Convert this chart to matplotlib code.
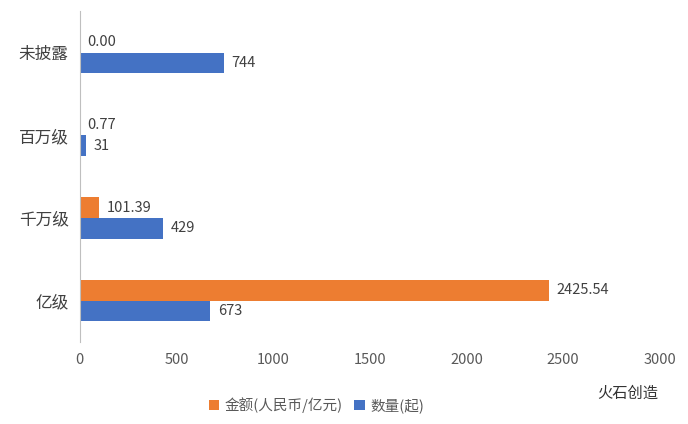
import matplotlib.pyplot as plt
import numpy as np

plt.rcParams['font.family'] = ['Noto Sans CJK SC', 'DejaVu Sans']

categories = ["亿级", "千万级", "百万级", "未披露"]
amount = [2425.54, 101.39, 0.77, 0.00]
amount_labels = ["2425.54", "101.39", "0.77", "0.00"]
count = [673, 429, 31, 744]

orange = "#ED7D31"
blue = "#4472C4"

fig = plt.figure(figsize=(6.88, 4.24), dpi=100)
ax = fig.add_axes([0.116, 0.193, 0.843, 0.78])

y = np.arange(len(categories))
h = 0.25
ax.barh(y + h / 2, amount, height=h, color=orange, label="金额(人民币/亿元)")
ax.barh(y - h / 2, count, height=h, color=blue, label="数量(起)")

for yi, v, lab in zip(y, amount, amount_labels):
    ax.text(v + 40, yi + h / 2, lab, va="center", ha="left", fontsize=10.5, color="#404040")
for yi, v in zip(y, count):
    ax.text(v + 40, yi - h / 2, str(v), va="center", ha="left", fontsize=10.5, color="#404040")

ax.set_xlim(0, 3000)
ax.set_ylim(-0.5, 3.5)
ax.set_xticks(range(0, 3001, 500))
ax.set_yticks(y)
ax.set_yticklabels(categories, fontsize=12, color="#404040")
ax.tick_params(axis="x", labelsize=10.5, colors="#595959", length=0, pad=8)
ax.tick_params(axis="y", length=0, pad=8)
for s in ["top", "right", "bottom"]:
    ax.spines[s].set_visible(False)
ax.spines["left"].set_color("#BFBFBF")

fig.legend(loc="center", bbox_to_anchor=(0.46, 0.045), ncol=2, frameon=False,
           fontsize=10.5, handlelength=0.7, handleheight=0.7, columnspacing=0.8,
           handletextpad=0.4, labelcolor="#595959")
fig.text(0.868, 0.073, "火石创造", fontsize=11, color="#333333", ha="left", va="center")

fig.savefig("out.png", dpi=100)
